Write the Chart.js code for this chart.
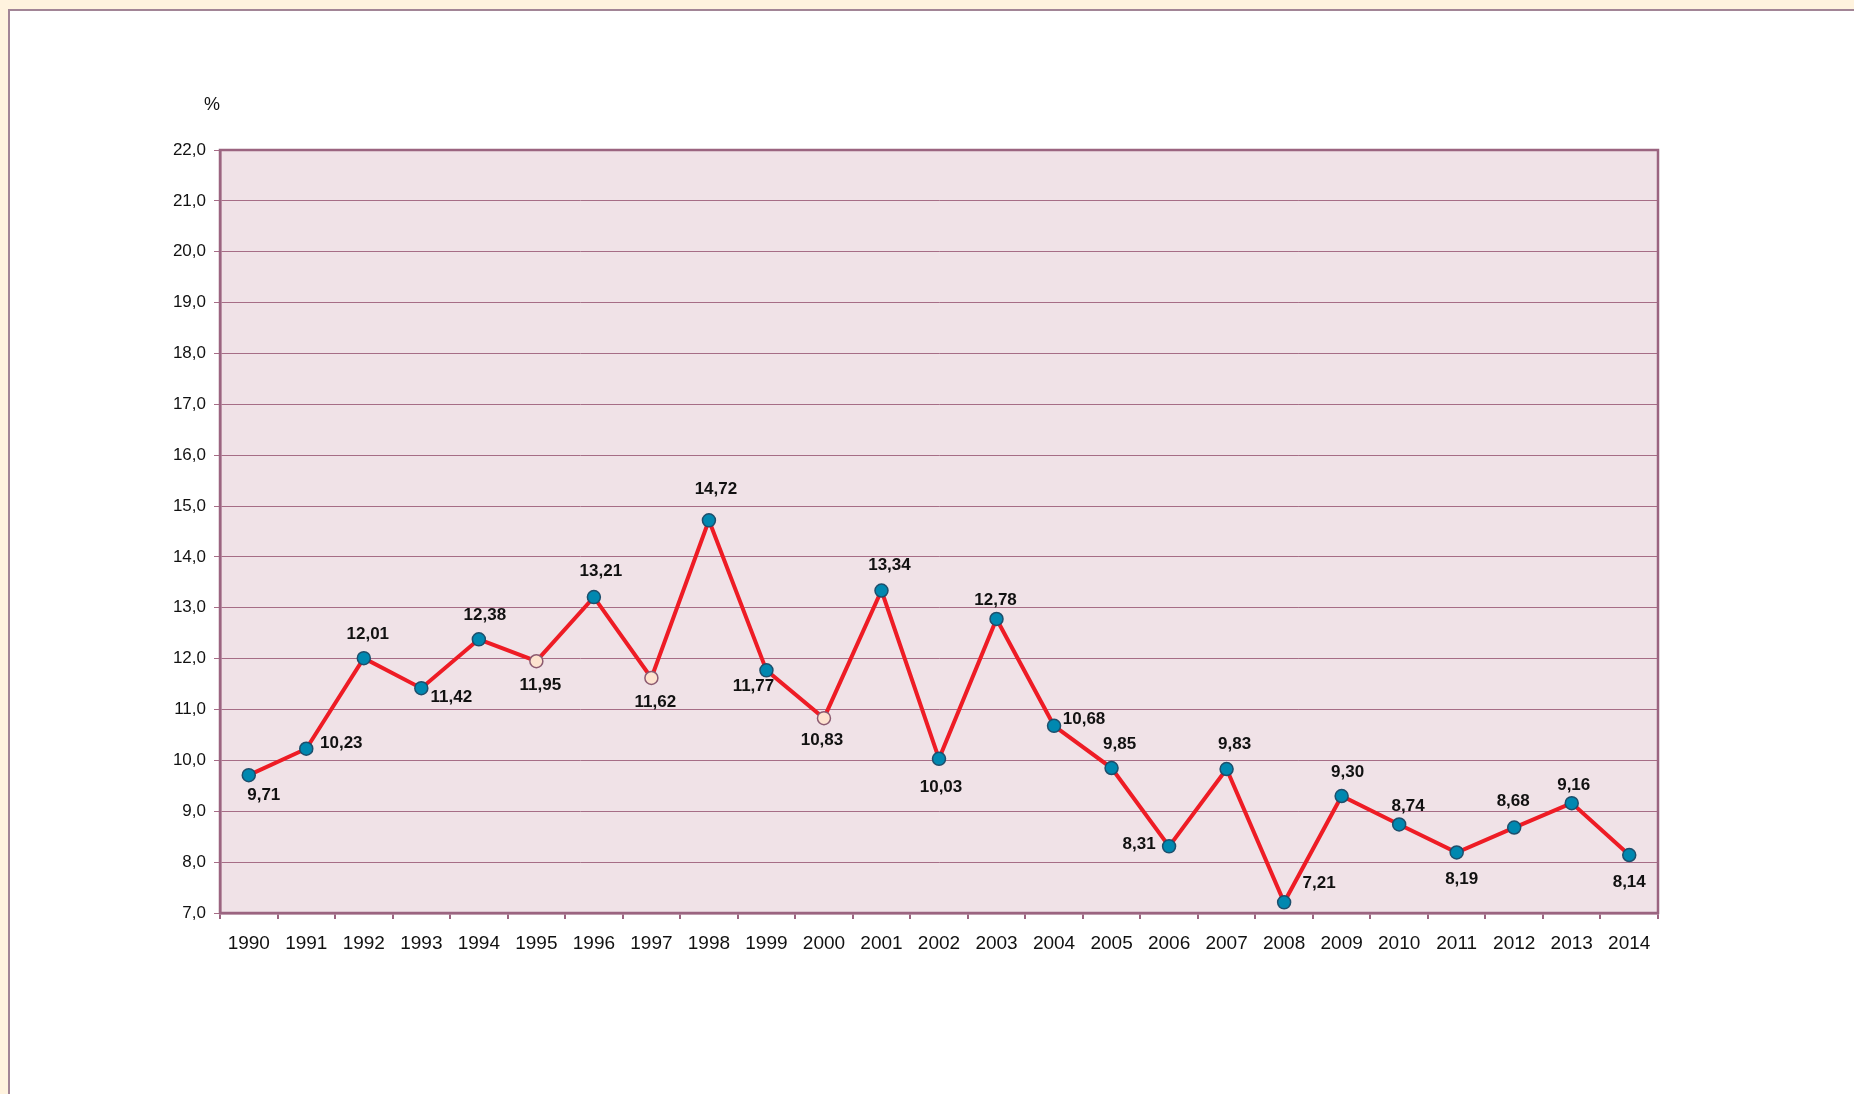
<!DOCTYPE html>
<html>
<head>
<meta charset="utf-8">
<script src="https://cdn.jsdelivr.net/npm/chart.js@4.4.1/dist/chart.umd.min.js"></script>
<style>
  html, body { margin: 0; padding: 0; background: #fff3de; overflow: hidden; }
  #panel { position: absolute; left: 8px; top: 9px; width: 1900px; height: 1200px;
           background: #fff; border-left: 2px solid #a28596; border-top: 2px solid #a28596; }
  #chart { position: absolute; left: 0; top: 0; }
</style>
</head>
<body>
<div id="panel"></div>
<canvas id="chart" width="1854" height="1094"></canvas>
<script>
const years = ['1990','1991','1992','1993','1994','1995','1996','1997','1998','1999','2000','2001','2002',
  '2003','2004','2005','2006','2007','2008','2009','2010','2011','2012','2013','2014'];
const rates = [9.71, 10.23, 12.01, 11.42, 12.38, 11.95, 13.21, 11.62, 14.72, 11.77, 10.83, 13.34, 10.03,
  12.78, 10.68, 9.85, 8.31, 9.83, 7.21, 9.30, 8.74, 8.19, 8.68, 9.16, 8.14];
// years drawn with a pale marker
const paleYears = ['1995', '1997', '2000'];
const yMin = 7, yMax = 22, yStep = 1;
const unitLabel = '%';

// where each value label sits relative to its point (px)
const labelOffsets = [
  [15, 20], [35, -5], [4, -24], [30, 9], [6, -24], [4, 24], [7, -26], [4, 24], [7, -31], [-13, 16],
  [-2, 22], [8, -25], [2, 28], [-1, -19], [30, -6], [8, -24], [-30, -2], [8, -25], [35, -19], [6, -24],
  [9, -18], [5, 27], [-1, -26], [2, -18], [0, 27]
];

const fmt = v => v.toFixed(2).replace('.', ',');

const plotFrame = {
  id: 'plotFrame',
  beforeDatasetsDraw(chart) {
    const { ctx, chartArea: a } = chart;
    ctx.save();
    ctx.strokeStyle = '#9b6480';
    ctx.lineWidth = 2.5;
    ctx.strokeRect(a.left, a.top, a.right - a.left, a.bottom - a.top);
    ctx.restore();
  },
  beforeDraw(chart) {
    const { ctx, chartArea: a } = chart;
    ctx.save();
    ctx.fillStyle = '#f0e2e7';
    ctx.fillRect(a.left, a.top, a.right - a.left, a.bottom - a.top);
    ctx.restore();
  },
  afterDraw(chart) {
    const { ctx } = chart;
    const meta = chart.getDatasetMeta(0);
    ctx.save();
    ctx.fillStyle = '#111';
    ctx.font = 'bold 17px "Liberation Sans", Arial, sans-serif';
    ctx.textAlign = 'center';
    ctx.textBaseline = 'middle';
    meta.data.forEach((pt, i) => {
      const [dx, dy] = labelOffsets[i];
      ctx.fillText(fmt(rates[i]), pt.x + dx, pt.y + dy);
    });
    ctx.font = '18px "Liberation Sans", Arial, sans-serif';
    ctx.fillText(unitLabel, chart.chartArea.left - 8, 105);
    ctx.restore();
  }
};

new Chart(document.getElementById('chart'), {
  type: 'line',
  data: {
    labels: years,
    datasets: [{
      data: rates,
      borderColor: '#ee1c25',
      borderWidth: 4,
      tension: 0,
      pointRadius: 6.5,
      pointBorderWidth: 1.5,
      pointBackgroundColor: years.map(y => paleYears.includes(y) ? '#fde3cf' : '#0088b0'),
      pointBorderColor: years.map(y => paleYears.includes(y) ? '#8c5a70' : '#1d4f6c'),
    }]
  },
  options: {
    responsive: false,
    animation: false,
    layout: { padding: { left: 160, right: 196, top: 150, bottom: 131 } },
    plugins: { legend: { display: false }, tooltip: { enabled: false } },
    scales: {
      x: {
        offset: true,
        afterFit(scale) { scale.height = 50; },
        grid: { offset: true, drawOnChartArea: false, drawTicks: true, tickLength: 6, color: '#9b6480', lineWidth: 2 },
        border: { display: true, color: '#9b6480', width: 2.5 },
        ticks: { color: '#111', font: { family: '"Liberation Sans", Arial, sans-serif', size: 19 }, padding: 13, maxRotation: 0, autoSkip: false }
      },
      y: {
        min: yMin,
        max: yMax,
        afterFit(scale) { scale.width = 60; },
        grid: { color: '#a66d86', lineWidth: 1, tickLength: 6 },
        border: { display: true, color: '#9b6480', width: 2.5 },
        ticks: {
          stepSize: yStep,
          color: '#111',
          padding: 8,
          font: { family: '"Liberation Sans", Arial, sans-serif', size: 17 },
          callback: v => v.toFixed(1).replace('.', ',')
        }
      }
    }
  },
  plugins: [plotFrame]
});
</script>
</body>
</html>
